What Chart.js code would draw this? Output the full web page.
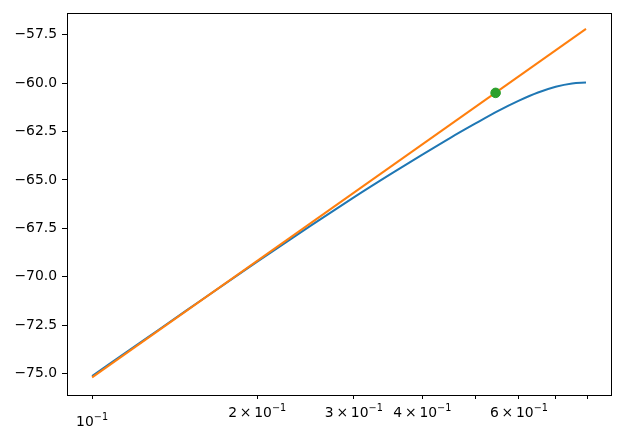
<!DOCTYPE html>
<html>
<head>
<meta charset="utf-8">
<script src="https://cdn.jsdelivr.net/npm/chart.js@4/dist/chart.umd.min.js"></script>
<style>
  html, body { margin: 0; padding: 0; background: #fff; }
  #wrap { width: 619px; height: 438px; }
</style>
</head>
<body>
<div id="wrap"><canvas id="plot" width="619" height="438"></canvas></div>
<script>
  // frequency points (log axis) and the measured curve
  const freq = [0.1, 0.125, 0.15, 0.2, 0.25, 0.3, 0.35, 0.4, 0.45, 0.5, 0.55, 0.6, 0.65, 0.7, 0.75, 0.795];
  const response = [-75.13, -73.22, -71.66, -69.22, -67.37, -65.90, -64.70, -63.69, -62.82, -62.08, -61.43, -60.90, -60.48, -60.18, -60.01, -59.96];

  // straight asymptote
  const lineFreq = [0.1, 0.795];
  const lineVals = [-75.2, -57.19];

  // marked point
  const markFreq = [0.544];
  const markVals = [-60.5];

  // x tick labels: mantissa and exponent ('' mantissa = plain power of ten)
  const xTicks = [0.1, 0.2, 0.3, 0.4, 0.5, 0.6, 0.7, 0.8];
  const xMant = ['', '2', '3', '4', null, '6', null, null];
  const xExp = '\u22121';
  const yTicks = [-75, -72.5, -70, -67.5, -65, -62.5, -60, -57.5];

  const pts = (xs, ys) => xs.map((x, i) => ({ x: x, y: ys[i] }));

  const frame = {
    id: 'frame',
    afterDraw(chart) {
      const a = chart.chartArea, c = chart.ctx;
      c.save();
      c.strokeStyle = '#000';
      c.lineWidth = 1;
      c.strokeRect(Math.round(a.left) + 0.5, Math.round(a.top) + 0.5,
        Math.round(a.right - a.left), Math.round(a.bottom - a.top));
      c.restore();
    }
  };

  // matplotlib-like log labels with a real superscript
  const logLabels = {
    id: 'logLabels',
    afterDraw(chart) {
      const s = chart.scales.x, c = chart.ctx;
      c.save();
      c.fillStyle = '#000';
      c.textBaseline = 'alphabetic';
      const big = '13.9px "DejaVu Sans"', small = '9.7px "DejaVu Sans"';
      xTicks.forEach((v, i) => {
        const m = xMant[i];
        if (m === null) return;
        const base = m === '' ? 426 : 417;
        const main = m === '' ? '10' : m + '\u2009\u00D7\u200910';
        c.font = big;
        const w1 = c.measureText(main).width;
        c.font = small;
        const w2 = c.measureText(xExp).width;
        const x0 = s.getPixelForValue(v) - (w1 + w2) / 2;
        c.font = big;
        c.fillText(main, x0, base);
        c.font = small;
        c.fillText(xExp, x0 + w1, base - 6);
      });
      c.restore();
    }
  };

  const font = { family: 'DejaVu Sans', size: 13.9 };

  new Chart(document.getElementById('plot'), {
    type: 'scatter',
    data: {
      datasets: [{
        data: pts(freq, response),
        showLine: true,
        borderColor: '#1f77b4',
        borderWidth: 2,
        pointRadius: 0,
        cubicInterpolationMode: 'monotone',
        order: 3
      }, {
        data: pts(lineFreq, lineVals),
        showLine: true,
        borderColor: '#ff7f0e',
        borderWidth: 2,
        pointRadius: 0,
        order: 2
      }, {
        data: pts(markFreq, markVals),
        backgroundColor: '#2ca02c',
        borderColor: '#2ca02c',
        pointRadius: 4.8,
        order: 1
      }]
    },
    options: {
      responsive: false,
      animation: false,
      layout: { padding: { left: 0, right: 8, top: 11, bottom: 0 } },
      plugins: { legend: { display: false }, tooltip: { enabled: false } },
      scales: {
        x: {
          type: 'logarithmic',
          min: 0.09,
          max: 0.883,
          afterBuildTicks(s) { s.ticks = xTicks.map(v => ({ value: v })); },
          afterFit(s) { s.height = 43; },
          border: { display: false },
          grid: { drawOnChartArea: false, tickLength: 4, tickColor: '#000' },
          ticks: {
            color: '#000',
            font: font,
            padding: 4,
            maxRotation: 0,
            autoSkip: false,
            callback: () => ''
          }
        },
        y: {
          min: -76.11,
          max: -56.39,
          afterBuildTicks(s) { s.ticks = yTicks.map(v => ({ value: v })); },
          afterFit(s) { s.width = 67; },
          border: { display: false },
          grid: { drawOnChartArea: false, tickLength: 5, tickColor: '#000' },
          ticks: {
            color: '#000',
            font: font,
            padding: 5,
            callback: v => v.toFixed(1).replace('-', '\u2212')
          }
        }
      }
    },
    plugins: [frame, logLabels]
  });
</script>
</body>
</html>
